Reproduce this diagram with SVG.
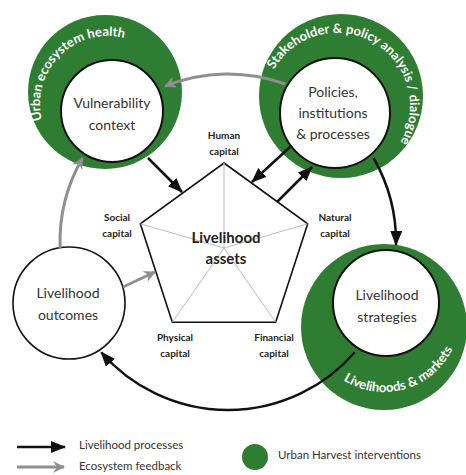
<svg xmlns="http://www.w3.org/2000/svg" width="466" height="475" viewBox="0 0 466 475">
<style>
.ring{fill:#2e7d32}
.inner{fill:#fff;stroke:#111;stroke-width:2}
.lbl{font-family:Lato,"Open Sans",sans-serif;font-size:14px;fill:#333;text-anchor:middle}
.cap{font-family:Lato,"Open Sans",sans-serif;font-size:10px;font-weight:bold;fill:#222;text-anchor:middle}
.rt{font-family:Lato,"Open Sans",sans-serif;font-size:13px;font-weight:bold;fill:#fff}
.blk{fill:none;stroke:#111;stroke-width:2.5}
.gry{fill:none;stroke:#8f8f8f;stroke-width:3}
.leg{font-family:Lato,"Open Sans",sans-serif;font-size:11.5px;fill:#333}
</style>
<defs>
<marker id="mb" markerUnits="userSpaceOnUse" markerWidth="16" markerHeight="14" refX="14" refY="6" orient="auto"><path d="M0,0 L15,6 L0,12 Z" fill="#111"/></marker>
<marker id="mg" markerUnits="userSpaceOnUse" markerWidth="14" markerHeight="14" refX="11" refY="6" orient="auto"><path d="M0,0 L12,6 L0,12 L4,6 Z" fill="#8f8f8f"/></marker>
<path id="tp1" d="M49.1,138 A68,68 0 0 1 142,45.1"/>
<path id="tp2" d="M266.5,87.1 A73,73 0 1 1 388.6,157.6"/>
<path id="tp3" d="M335.1,374.2 A76,76 0 0 0 456.3,339.5"/>
</defs>

<g id="vulnerability">
<circle class="ring" cx="105" cy="92" r="77"/>
<circle class="inner" cx="112" cy="111" r="51"/>
<text class="lbl" x="112" y="108">Vulnerability</text>
<text class="lbl" x="112" y="130">context</text>
<text class="rt"><textPath href="#tp1" startOffset="50%" text-anchor="middle">Urban ecosystem health</textPath></text>
</g>

<g id="policies">
<circle class="ring" cx="341" cy="96" r="82"/>
<circle class="inner" cx="335" cy="113" r="55"/>
<text class="lbl" x="333" y="97">Policies,</text>
<text class="lbl" x="333" y="118">institutions</text>
<text class="lbl" x="333" y="139">&amp; processes</text>
<text class="rt"><textPath href="#tp2" startOffset="50%" text-anchor="middle">Stakeholder &amp; policy analysis / dialogue</textPath></text>
</g>

<g id="strategies">
<circle class="ring" cx="384" cy="327" r="83"/>
<circle class="inner" cx="386" cy="303" r="53"/>
<text class="lbl" x="387" y="300">Livelihood</text>
<text class="lbl" x="387" y="322">strategies</text>
<text class="rt" font-size="12.5"><textPath href="#tp3" startOffset="50%" text-anchor="middle">Livelihoods &amp; markets</textPath></text>
</g>

<g id="outcomes">
<circle cx="69" cy="303" r="56" fill="#fff" stroke="#111" stroke-width="1.6"/>
<text class="lbl" x="68" y="298">Livelihood</text>
<text class="lbl" x="68" y="320">outcomes</text>
</g>

<g id="assets">
<polygon points="224,163 307.7,223.8 275.7,322.2 172.3,322.2 140.3,223.8" fill="#fff" stroke="#111" stroke-width="1.6"/>
<g stroke="#bdbdbd" stroke-width="1">
<line x1="224" y1="248" x2="224" y2="163"/>
<line x1="224" y1="248" x2="307.7" y2="223.8"/>
<line x1="224" y1="248" x2="275.7" y2="322.2"/>
<line x1="224" y1="248" x2="172.3" y2="322.2"/>
<line x1="224" y1="248" x2="140.3" y2="223.8"/>
</g>
<text x="226" y="243" font-family="Lato,'Open Sans',sans-serif" font-size="15" font-weight="bold" fill="#222" text-anchor="middle">Livelihood</text>
<text x="226" y="264" font-family="Lato,'Open Sans',sans-serif" font-size="15" font-weight="bold" fill="#222" text-anchor="middle">assets</text>
<text class="cap" x="224" y="139">Human</text>
<text class="cap" x="224" y="155">capital</text>
<text class="cap" x="117" y="221">Social</text>
<text class="cap" x="117" y="237">capital</text>
<text class="cap" x="335" y="221">Natural</text>
<text class="cap" x="335" y="237">capital</text>
<text class="cap" x="175" y="341">Physical</text>
<text class="cap" x="175" y="357">capital</text>
<text class="cap" x="274" y="341">Financial</text>
<text class="cap" x="274" y="357">capital</text>
</g>

<g id="connectors">
<path class="gry" d="M285.5,84.1 A168,168 0 0 0 165.1,86.2" marker-end="url(#mg)"/>
<path class="blk" d="M373.5,158 A168,168 0 0 1 396,245" marker-end="url(#mb)"/>
<path class="blk" d="M354.8,352.2 A168,168 0 0 1 101.2,352.2" marker-end="url(#mb)"/>
<path class="gry" d="M60.1,247.9 A168,168 0 0 1 82.5,158" marker-end="url(#mg)"/>
<line class="blk" x1="148" y1="158" x2="182" y2="192" marker-end="url(#mb)"/>
<line class="blk" x1="290" y1="147" x2="252" y2="182" marker-end="url(#mb)"/>
<line class="blk" x1="277" y1="202" x2="312" y2="167" marker-end="url(#mb)"/>
<line class="gry" x1="123" y1="287" x2="155" y2="272" marker-end="url(#mg)"/>
</g>

<g id="legend">
<line class="blk" x1="17" y1="447" x2="65" y2="447" marker-end="url(#mb)"/>
<line class="gry" x1="17" y1="467" x2="64" y2="467" marker-end="url(#mg)"/>
<text class="leg" x="79" y="449">Livelihood processes</text>
<text class="leg" x="79" y="470">Ecosystem feedback</text>
<circle class="ring" cx="255" cy="457" r="13"/>
<text class="leg" x="278" y="459">Urban Harvest interventions</text>
</g>
</svg>
